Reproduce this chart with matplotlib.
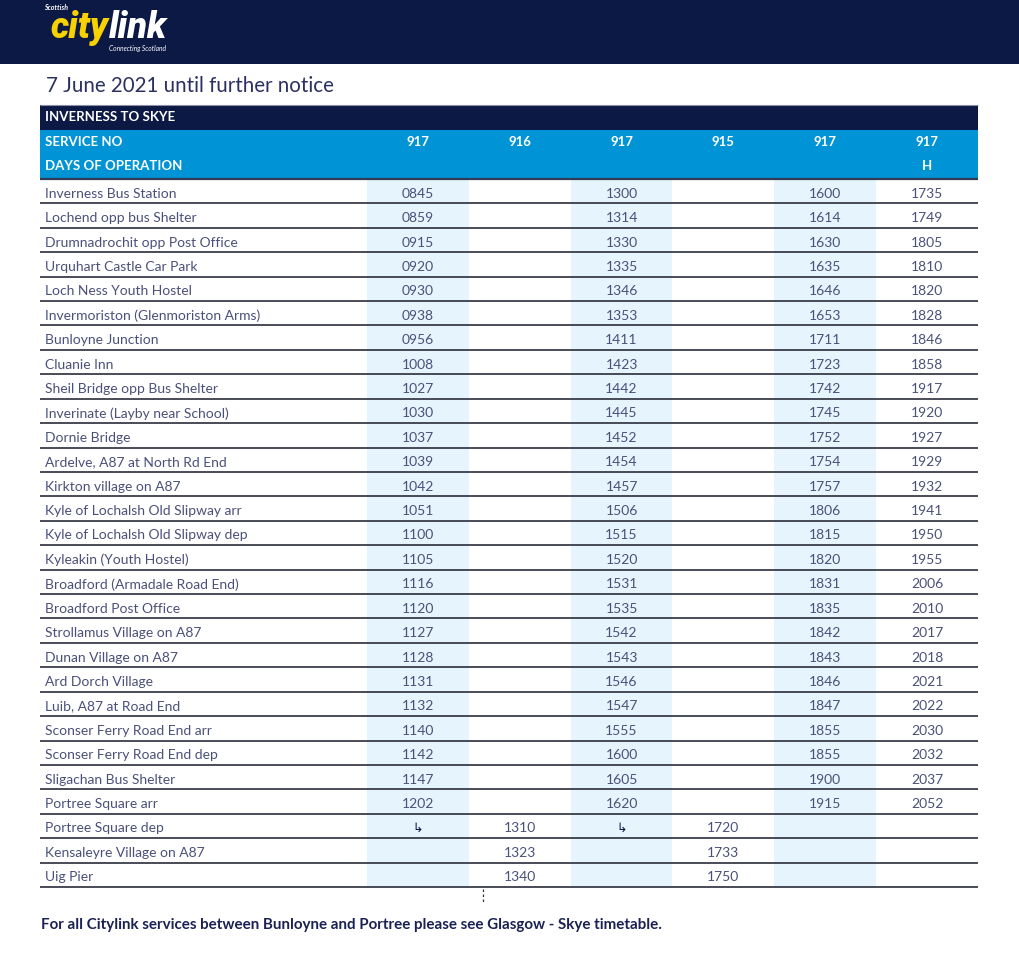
import matplotlib
matplotlib.use('Agg')
import matplotlib.pyplot as plt
from matplotlib.patches import Rectangle

plt.rcParams['font.family'] = ['Lato', 'DejaVu Sans']

# timetable data
stops = [
    'Inverness Bus Station', 'Lochend opp bus Shelter', 'Drumnadrochit opp Post Office',
    'Urquhart Castle Car Park', 'Loch Ness Youth Hostel', 'Invermoriston (Glenmoriston Arms)',
    'Bunloyne Junction', 'Cluanie Inn', 'Sheil Bridge opp Bus Shelter',
    'Inverinate (Layby near School)', 'Dornie Bridge', 'Ardelve, A87 at North Rd End',
    'Kirkton village on A87', 'Kyle of Lochalsh Old Slipway arr', 'Kyle of Lochalsh Old Slipway dep',
    'Kyleakin (Youth Hostel)', 'Broadford (Armadale Road End)', 'Broadford Post Office',
    'Strollamus Village on A87', 'Dunan Village on A87', 'Ard Dorch Village',
    'Luib, A87 at Road End', 'Sconser Ferry Road End arr', 'Sconser Ferry Road End dep',
    'Sligachan Bus Shelter', 'Portree Square arr', 'Portree Square dep',
    'Kensaleyre Village on A87', 'Uig Pier',
]
service_no = ['917', '916', '917', '915', '917', '917']
days_of_op = ['', '', '', '', '', 'H']

svc_917_morning = ['0845', '0859', '0915', '0920', '0930', '0938', '0956', '1008', '1027', '1030',
                   '1037', '1039', '1042', '1051', '1100', '1105', '1116', '1120', '1127', '1128',
                   '1131', '1132', '1140', '1142', '1147', '1202', '\u21b3', '', '']
svc_916 = [''] * 26 + ['1310', '1323', '1340']
svc_917_midday = ['1300', '1314', '1330', '1335', '1346', '1353', '1411', '1423', '1442', '1445',
                  '1452', '1454', '1457', '1506', '1515', '1520', '1531', '1535', '1542', '1543',
                  '1546', '1547', '1555', '1600', '1605', '1620', '\u21b3', '', '']
svc_915 = [''] * 26 + ['1720', '1733', '1750']
svc_917_afternoon = ['1600', '1614', '1630', '1635', '1646', '1653', '1711', '1723', '1742', '1745',
                     '1752', '1754', '1757', '1806', '1815', '1820', '1831', '1835', '1842', '1843',
                     '1846', '1847', '1855', '1855', '1900', '1915', '', '', '']
svc_917_evening = ['1735', '1749', '1805', '1810', '1820', '1828', '1846', '1858', '1917', '1920',
                   '1927', '1929', '1932', '1941', '1950', '1955', '2006', '2010', '2017', '2018',
                   '2021', '2022', '2030', '2032', '2037', '2052', '', '', '']
columns = [svc_917_morning, svc_916, svc_917_midday, svc_915, svc_917_afternoon, svc_917_evening]

navy = '#0c1944'
blue = '#0093d6'
shade = '#e6f4fd'
text_col = '#4b5079'

fig = plt.figure(figsize=(10.2, 9.79), dpi=100)
ax = fig.add_axes([0, 0, 1, 1])
ax.set_xlim(0, 1020)
ax.set_ylim(979, 0)
ax.axis('off')

# banner + logo
ax.add_patch(Rectangle((0, 0), 1020, 65, color=navy, lw=0))
ax.text(44, 7, 'Scottish', color='white', fontsize=5, style='italic', fontweight='bold', va='center')
t_city = ax.text(51, 38, 'city', color='#f7d100', fontsize=26, style='italic', fontweight='heavy',
                 family=['Roboto', 'DejaVu Sans'], va='baseline')
ax.annotate('link', xy=(1, 38), xycoords=(t_city, 'data'), color='white', fontsize=26, style='italic',
            fontweight='heavy', family=['Roboto', 'DejaVu Sans'], va='baseline', ha='left')
ax.text(166, 48, 'Connecting Scotland', color='white', fontsize=4.8, style='italic', va='center', ha='right')

ax.text(46, 86, '7 June 2021 until further notice', color='#2a3160', fontsize=14.8,
        fontweight='normal', va='center')

# table geometry
left, right = 40, 978
col_left = 367
col_w = (right - col_left) / len(columns)
top_row = 180
row_h = (888 - top_row) / len(stops)

ax.add_patch(Rectangle((left, 106), right - left, 25, color=navy, lw=0))
ax.add_patch(Rectangle((left, 131), right - left, 49, color=blue, lw=0))
ax.hlines(106, left, right, color='#8a8fa6', lw=0.8)
ax.hlines(180, left, right, color='#333a55', lw=1.6)
ax.text(45, 117, 'INVERNESS TO SKYE', color='white', fontsize=9.5, fontweight='bold', va='center')
ax.text(45, 142, 'SERVICE NO', color='white', fontsize=9.5, fontweight='bold', va='center')
ax.text(45, 166, 'DAYS OF OPERATION', color='white', fontsize=9.5, fontweight='bold', va='center')

for j in range(len(columns)):
    cx = col_left + col_w * (j + 0.5)
    if j % 2 == 0:
        ax.add_patch(Rectangle((col_left + col_w * j, top_row), col_w, row_h * len(stops),
                               color=shade, lw=0, zorder=0))
    ax.text(cx, 142, service_no[j], color='white', fontsize=9.5, fontweight='bold', ha='center', va='center')
    ax.text(cx, 166, days_of_op[j], color='white', fontsize=9.5, fontweight='bold', ha='center', va='center')

for i, stop in enumerate(stops):
    cy = top_row + row_h * (i + 0.5) + 1.5
    ax.text(45, cy, stop, color=text_col, fontsize=10, va='center')
    for j, col in enumerate(columns):
        cx = col_left + col_w * (j + 0.5)
        val = col[i]
        if val == '\u21b3':
            ax.text(cx, cy, val, color=navy, fontsize=9, family='DejaVu Sans', ha='center', va='center')
        elif val:
            ax.text(cx, cy, val, color=text_col, fontsize=10, ha='center', va='center')
    ax.hlines(top_row + row_h * (i + 1), left, right, color='#2a2d3a', lw=1.2)

ax.vlines(483, 890, 903, color='#333', lw=0.9, linestyles=(0, (2, 2)))

ax.text(41, 925, 'For all Citylink services between Bunloyne and Portree please see Glasgow - Skye timetable.',
        color='#1b2253', fontsize=10.9, fontweight='bold', va='center')

fig.savefig('out.png', dpi=100)
